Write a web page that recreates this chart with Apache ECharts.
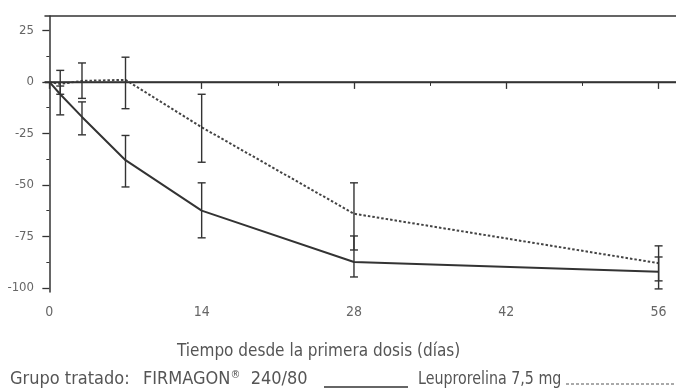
<!DOCTYPE html>
<html>
<head>
<meta charset="utf-8">
<script src="https://cdn.jsdelivr.net/npm/echarts@6/dist/echarts.min.js"></script>
<style>
html,body{margin:0;padding:0;background:#fff;}
#c{width:676px;height:390px;}
</style>
</head>
<body>
<div id="c"></div>
<script>
// ---- data ----
var days = [0, 1, 3, 7, 14, 28, 56];
var firmagon = [0, -6, -17, -38, -62.5, -87.4, -92.2];
var leupro = [0, -1, 0.5, 1, -22, -64, -88];
var errDays = [1, 3, 7, 14, 28, 56];
var firmagonHi = [-2, -9.7, -26, -49, -74.8, -85];
var firmagonLo = [-16, -25.7, -51, -75.7, -94.7, -100.5];
var leuproHi = [5.6, 9.2, 12, -6, -49, -79.6];
var leuproLo = [-6, -8, -13, -39, -81.6, -96.6];
var xTickLabels = [0, 14, 28, 42, 56];
var xMinorTicks = [7, 21, 35, 49];
var yTickLabels = [-100, -75, -50, -25, 0, 25];
var yMinorTicks = [-87.5, -62.5, -37.5, -12.5, 12.5];
var xTitle = 'Tiempo desde la primera dosis (días)';
var legendLabel = 'Grupo tratado:';
var name1Main = 'FIRMAGON';
var name1Sup = '®';
var name1Dose = '240/80';
var name2 = 'Leuprorelina 7,5 mg';

var FONT = "'Liberation Sans Narrow','DejaVu Sans Condensed',sans-serif";
var INK = '#333';
var TXT = '#555';

function pairs(xs, ys) { return xs.map(function (x, i) { return [x, ys[i]]; }); }
var errData = [];
errDays.forEach(function (d, i) {
  errData.push([d, firmagonLo[i], firmagonHi[i]]);
  errData.push([d, leuproLo[i], leuproHi[i]]);
});

var chart = echarts.init(document.getElementById('c'), null, {renderer: 'canvas'});
chart.setOption({
  animation: false,
  backgroundColor: '#fff',
  textStyle: {fontFamily: FONT},
  grid: {left: 45, right: 0, top: 16, bottom: 98, containLabel: false},
  xAxis: [{
    type: 'value', min: -0.4, max: 57.6, position: 'bottom',
    axisLine: {show: true, lineStyle: {color: INK, width: 1.5}},
    axisTick: {show: true, customValues: xTickLabels, length: 7, lineStyle: {color: INK, width: 1.3}},
    axisLabel: {customValues: xTickLabels, margin: 13, fontSize: 14, color: '#666', fontFamily: FONT},
    splitLine: {show: false}
  }, {
    type: 'value', min: -0.4, max: 57.6, position: 'bottom',
    axisLine: {show: false},
    axisTick: {show: true, customValues: xMinorTicks, length: 4, lineStyle: {color: INK, width: 1}},
    axisLabel: {show: false},
    splitLine: {show: false}
  }, {
    type: 'value', min: -0.4, max: 57.6, position: 'top',
    axisLine: {show: true, lineStyle: {color: INK, width: 1.5}},
    axisTick: {show: false}, axisLabel: {show: false}, splitLine: {show: false}
  }],
  yAxis: [{
    type: 'value', min: -102, max: 32, position: 'left',
    axisLine: {show: true, lineStyle: {color: INK, width: 1.5}},
    axisTick: {show: true, customValues: yTickLabels, length: 7, lineStyle: {color: INK, width: 1.3}},
    axisLabel: {customValues: yTickLabels, margin: 11, fontSize: 13, color: '#666', fontFamily: FONT},
    splitLine: {show: false}
  }, {
    type: 'value', min: -102, max: 32, position: 'left',
    axisLine: {show: false},
    axisTick: {show: true, customValues: yMinorTicks, length: 3, lineStyle: {color: INK, width: 1}},
    axisLabel: {show: false}, splitLine: {show: false}
  }],
  series: [{
    name: name1Main, type: 'line', data: pairs(days, firmagon),
    symbol: 'none', lineStyle: {color: INK, width: 2}, z: 3,
    markLine: {
      silent: true, symbol: 'none', label: {show: false},
      lineStyle: {color: INK, width: 1.3, type: 'solid'},
      data: [{yAxis: 0}]
    }
  }, {
    name: name2, type: 'line', data: pairs(days, leupro),
    symbol: 'none', lineStyle: {color: '#444', width: 2, type: [2.5, 2]}, z: 3
  }, {
    type: 'custom', data: errData, z: 4,
    encode: {x: 0, y: [1, 2]},
    renderItem: function (params, api) {
      var x = api.value(0);
      var lo = api.coord([x, api.value(1)]);
      var hi = api.coord([x, api.value(2)]);
      var w = 4;
      var st = {stroke: INK, lineWidth: 1.4, fill: null};
      return {
        type: 'group', children: [
          {type: 'line', shape: {x1: lo[0], y1: lo[1], x2: hi[0], y2: hi[1]}, style: st},
          {type: 'line', shape: {x1: lo[0] - w, y1: lo[1], x2: lo[0] + w, y2: lo[1]}, style: st},
          {type: 'line', shape: {x1: hi[0] - w, y1: hi[1], x2: hi[0] + w, y2: hi[1]}, style: st}
        ]
      };
    }
  }],
  graphic: [
    {type: 'text', x: 177, y: 352, style: {text: xTitle, font: '17px ' + FONT, fill: TXT, verticalAlign: 'middle'}},
    {type: 'text', x: 10, y: 379, style: {text: legendLabel, font: '18px ' + FONT, fill: TXT, verticalAlign: 'middle'}},
    {type: 'text', x: 143, y: 379, style: {
      text: '{m|' + name1Main + '}{s|' + name1Sup + '}{m|  ' + name1Dose + '}',
      verticalAlign: 'middle',
      rich: {
        m: {font: '18px ' + FONT, fill: TXT, color: TXT},
        s: {font: '11px ' + FONT, fill: TXT, color: TXT, verticalAlign: 'top', padding: [0, 0, 8, 0]}
      }
    }},
    {type: 'line', shape: {x1: 324, y1: 387, x2: 408, y2: 387}, style: {stroke: INK, lineWidth: 1.3}},
    {type: 'text', x: 418, y: 379, scaleX: 0.88, style: {text: name2, font: '18px ' + FONT, fill: TXT, verticalAlign: 'middle'}},
    {type: 'line', shape: {x1: 566, y1: 384, x2: 676, y2: 384}, style: {stroke: '#555', lineWidth: 1, lineDash: [3, 2]}}
  ]
});
</script>
</body>
</html>
